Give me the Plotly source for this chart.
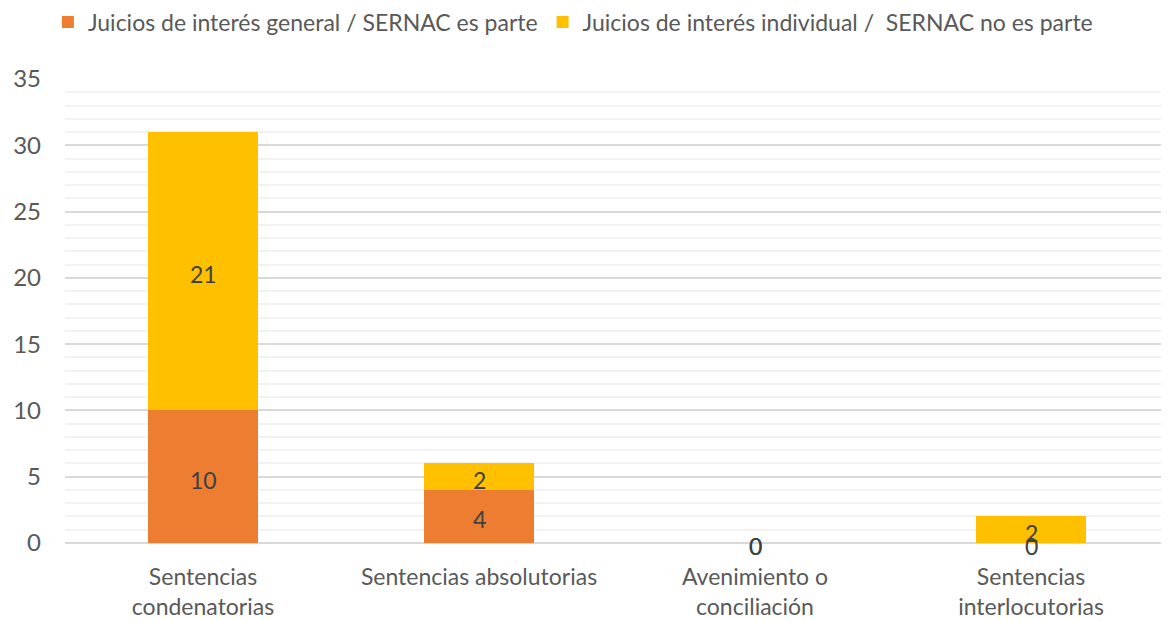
import plotly.graph_objects as go

categories = ["Sentencias<br>condenatorias", "Sentencias absolutorias",
              "Avenimiento o<br>conciliación", "Sentencias<br>interlocutorias"]
series_names = ["Juicios de interés general / SERNAC es parte",
                "Juicios de interés individual /  SERNAC no es parte"]
general = [10, 4, 0, 0]
individual = [21, 2, 0, 2]
colors = ["#ED7D31", "#FFC000"]

FONT = "Lato"
fig = go.Figure()
fig.add_trace(go.Bar(x=categories, y=general, name=series_names[0],
                     marker=dict(color=colors[0], line=dict(width=0)), width=0.4))
fig.add_trace(go.Bar(x=categories, y=individual, name=series_names[1],
                     marker=dict(color=colors[1], line=dict(width=0)), width=0.4))

# data labels at segment centres
lab_y1 = [v / 2 for v in general]
lab_y2 = [g + v / 2 for g, v in zip(general, individual)]
for ys, vals in [(lab_y1, general), (lab_y2, individual)]:
    for c, yv, v in zip(categories, ys, vals):
        fig.add_annotation(x=c, y=yv, text=str(v), showarrow=False, yshift=-3,
                           font=dict(family=FONT, size=23, color="#404040"))

fig.update_layout(
    barmode="stack",
    width=1169, height=621,
    margin=dict(l=57, r=8, t=71, b=86, autoexpand=False),
    plot_bgcolor="white", paper_bgcolor="white",
    font=dict(family=FONT, size=24, color="#595959"),
    legend=dict(orientation="h", x=-0.0155, xanchor="left", y=1.1228, yanchor="middle",
                font=dict(family=FONT, size=23, color="#595959"),
                itemwidth=30, tracegroupgap=0, traceorder="normal"),
    xaxis=dict(showgrid=False, showline=False, ticks="",
               tickfont=dict(family=FONT, size=23, color="#595959"),
               ticklabelstandoff=18),
    yaxis=dict(range=[0, 35], dtick=5, showgrid=True, gridcolor="#D9D9D9", gridwidth=1.5,
               zeroline=True, zerolinecolor="#D9D9D9", zerolinewidth=1.5,
               minor=dict(dtick=1, showgrid=True, gridcolor="#F2F2F2", gridwidth=1.5),
               tickfont=dict(family=FONT, size=24, color="#595959"), ticks="",
               ticklabelstandoff=23),
    bargap=0.6,
)
fig.write_html("out.html")
